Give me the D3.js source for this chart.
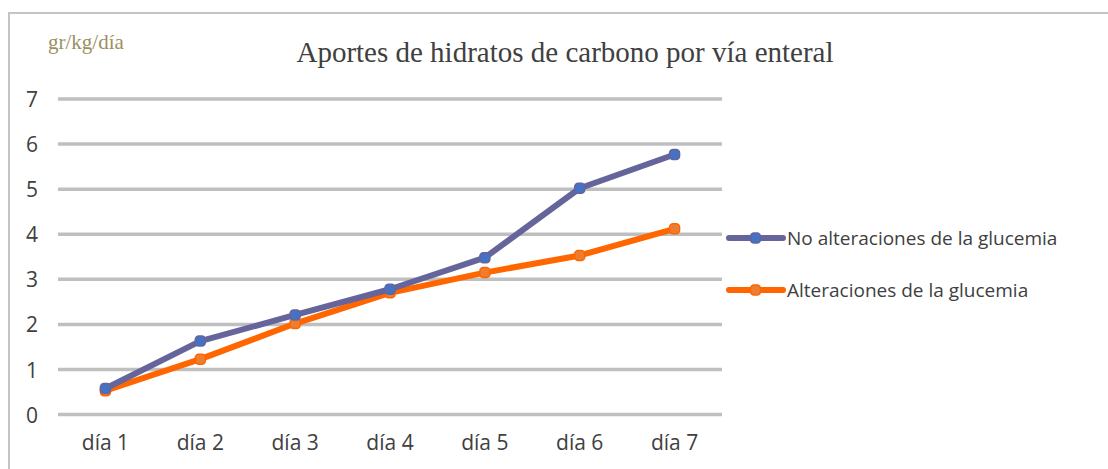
<!DOCTYPE html>
<html>
<head>
<meta charset="utf-8">
<script src="https://cdn.jsdelivr.net/npm/d3@7"></script>
<style>
  html, body { margin: 0; padding: 0; background: #fff; }
  svg { display: block; }
</style>
</head>
<body>
<svg id="chart" width="1108" height="469"></svg>
<script>
// Days on the x axis
const days = ["día 1", "día 2", "día 3", "día 4", "día 5", "día 6", "día 7"];
// Carbohydrate intake (gr/kg/día) per group
const noAlteraciones = [0.58, 1.63, 2.21, 2.78, 3.48, 5.02, 5.77];
const alteraciones   = [0.53, 1.23, 2.02, 2.70, 3.15, 3.53, 4.12];
const seriesNames = ["No alteraciones de la glucemia", "Alteraciones de la glucemia"];
const yTicks = [0, 1, 2, 3, 4, 5, 6, 7];

const svg = d3.select("#chart");
const W = 1108, H = 469;
const plot = { left: 58, right: 722, top: 99, bottom: 414.6 };
const sans = "'Open Sans', sans-serif";

// Chart frame
svg.append("rect")
  .attr("x", 9).attr("y", 13)
  .attr("width", W + 10).attr("height", H + 10)
  .attr("fill", "#fff").attr("stroke", "#c4c4c4").attr("stroke-width", 2);

const x = d3.scaleBand().domain(days).range([plot.left, plot.right]);
const y = d3.scaleLinear().domain([0, 7]).range([plot.bottom, plot.top]);

// Horizontal gridlines
svg.append("g")
  .selectAll("line").data(yTicks).join("line")
  .attr("x1", plot.left).attr("x2", plot.right)
  .attr("y1", d => y(d)).attr("y2", d => y(d))
  .attr("stroke", "#bfbfbf").attr("stroke-width", 3.5);

// Y axis labels
const yAxis = d3.axisLeft(y).tickValues(yTicks).tickSize(0).tickPadding(0).tickFormat(d3.format("d"));
const gy = svg.append("g").attr("transform", `translate(38,0)`).call(yAxis);
gy.select(".domain").remove();
gy.selectAll("text")
  .attr("font-family", sans).attr("font-size", 21)
  .attr("fill", "#404040").attr("dy", "0.36em");

// X axis labels
const xAxis = d3.axisBottom(x).tickSize(0).tickPadding(0);
const gx = svg.append("g").attr("transform", `translate(0,${plot.bottom})`).call(xAxis);
gx.select(".domain").remove();
gx.selectAll("text")
  .attr("font-family", sans).attr("font-size", 21)
  .attr("fill", "#404040").attr("dy", "0").attr("y", 35);

const series = [
  { name: seriesNames[0], values: noAlteraciones, line: "#65659c", marker: "#4472c4" },
  { name: seriesNames[1], values: alteraciones, line: "#ff6600", marker: "#ed7d31" }
];

const lineGen = d3.line()
  .x((d, i) => x(days[i]) + x.bandwidth() / 2)
  .y(d => y(d));

// Draw the orange series first so the blue one sits on top
[series[1], series[0]].forEach(s => {
  const g = svg.append("g");
  g.append("path").datum(s.values)
    .attr("d", lineGen)
    .attr("fill", "none").attr("stroke", s.line)
    .attr("stroke-width", 6).attr("stroke-linejoin", "round");
  g.selectAll("rect").data(s.values).join("rect")
    .attr("x", (d, i) => x(days[i]) + x.bandwidth() / 2 - 5)
    .attr("y", d => y(d) - 5)
    .attr("width", 10).attr("height", 10).attr("rx", 3.5)
    .attr("fill", s.marker).attr("stroke", s.line).attr("stroke-width", 1.5);
});

// Legend
const legend = svg.append("g");
series.forEach((s, i) => {
  const ly = 238 + i * 52;
  legend.append("line")
    .attr("x1", 729).attr("x2", 783).attr("y1", ly).attr("y2", ly)
    .attr("stroke", s.line).attr("stroke-width", 6).attr("stroke-linecap", "round");
  legend.append("rect")
    .attr("x", 750.5).attr("y", ly - 5).attr("width", 10).attr("height", 10).attr("rx", 3.5)
    .attr("fill", s.marker).attr("stroke", s.line).attr("stroke-width", 1.5);
  legend.append("text")
    .attr("x", 787).attr("y", ly).attr("dy", "0.36em")
    .attr("font-family", sans).attr("font-size", 19)
    .attr("fill", "#404040")
    .text(s.name);
});

// Title and unit label
svg.append("text")
  .attr("x", 565).attr("y", 62).attr("text-anchor", "middle")
  .attr("font-family", "'Liberation Serif', serif").attr("font-size", 29)
  .attr("fill", "#404040")
  .text("Aportes de hidratos de carbono por vía enteral");

svg.append("text")
  .attr("x", 48).attr("y", 49)
  .attr("font-family", "'Liberation Serif', serif").attr("font-size", 21)
  .attr("fill", "#9c8f5f")
  .text("gr/kg/día");
</script>
</body>
</html>
